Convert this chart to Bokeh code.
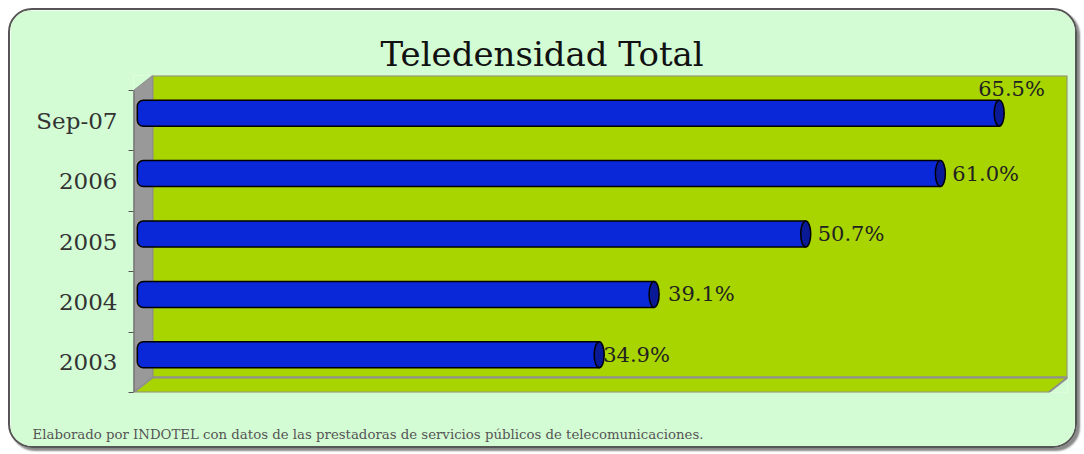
from bokeh.plotting import figure
from bokeh.models import Range1d, FixedTicker, Title, ColumnDataSource
from bokeh.core.properties import value
from bokeh.embed import file_html
from bokeh.resources import INLINE

# ---- data ----
categories = ["2003", "2004", "2005", "2006", "Sep-07"]
teledensidad = [34.9, 39.1, 50.7, 61.0, 65.5]
value_labels = ["34.9%", "39.1%", "50.7%", "61.0%", "65.5%"]
title_text = "Teledensidad Total"
footnote = "Elaborado por INDOTEL con datos de las prestadoras de servicios públicos de telecomunicaciones."

# ---- style ----
X_MAX = 70
BG = "#d4fcd4"
WALL = "#a8d400"
SIDE = "#999999"
EDGE = "#8f8f8f"
BAR = "#0a28d8"
CAP = "#0a1a96"
FONT = "DejaVu Serif"
label_dx = [4, 14, 12, 12, -21]   # pixel offsets of the value labels
label_dy = [0, 0, 0, 0, -24]

FRAME_W, FRAME_H = 934, 317
DEPTH_X_PX, DEPTH_Y_PX = 19, 15
N = len(categories)
DX = DEPTH_X_PX * X_MAX / (FRAME_W - DEPTH_X_PX)
DY = DEPTH_Y_PX * N / (FRAME_H - DEPTH_Y_PX)
BAR_H = 0.43

p = figure(width=1069, height=440,
           x_range=Range1d(0, X_MAX + DX), y_range=Range1d(0, N + DY),
           output_backend="svg", toolbar_location=None, x_axis_location=None,
           min_border_left=123, min_border_right=12, min_border_top=65, min_border_bottom=58,
           background_fill_color=BG, border_fill_color=BG, outline_line_color=None,
           styles={"margin": "8px 0 0 8px", "border": "2px solid #555", "border-radius": "24px",
                   "overflow": "hidden", "box-shadow": "3px 3px 2px #888"})
p.grid.visible = False

# 3D walls
p.quad(left=[DX], right=[X_MAX + DX], bottom=[DY], top=[N + DY],
       fill_color=WALL, line_color=EDGE, line_width=2)
p.patch(x=[0, DX, DX, 0], y=[0, DY, N + DY, N], fill_color=SIDE, line_color=EDGE, line_width=1)
p.patch(x=[0, DX, X_MAX + DX, X_MAX], y=[0, DY, DY, 0], fill_color=WALL, line_color=EDGE, line_width=2)
p.segment(x0=[0], y0=[0], x1=[0], y1=[N], line_color="#666", line_width=2)

centers = [i + 0.5 for i in range(N)]
src = ColumnDataSource(dict(
    y=[c + DY / 2 for c in centers],
    left=[DX * 0.2] * N,
    right=[v + DX / 2 for v in teledensidad],
    label=value_labels, dx=label_dx, dy=label_dy,
))

p.hbar(y="y", left="left", right="right", height=BAR_H, source=src,
       fill_color=BAR, line_color="black", line_width=1.5, border_radius=(6, 0, 0, 6))
p.ellipse(x="right", y="y", width=10, height=BAR_H, width_units="screen", source=src,
          fill_color=CAP, line_color="black", line_width=1.5)
p.text(x="right", y="y", text="label", x_offset="dx", y_offset="dy", source=src,
       text_baseline="middle", text_align="left", text_font=value(FONT),
       text_font_size="21px", text_color="#222")

# y axis
ax = p.yaxis[0]
ax.ticker = FixedTicker(ticks=centers, minor_ticks=list(range(N + 1)))
ax.major_label_overrides = {c: cat for c, cat in zip(centers, categories)}
ax.major_tick_line_color = None
ax.major_tick_out = 0
ax.major_tick_in = 0
ax.minor_tick_out = 5
ax.minor_tick_in = 0
ax.minor_tick_line_color = "#555"
ax.axis_line_color = None
ax.major_label_standoff = 11
ax.major_label_text_font = FONT
ax.major_label_text_font_size = "23px"
ax.major_label_text_color = "#333"

p.title = Title(text=title_text, align="left", offset=247, text_font=FONT,
                text_font_size="34px", text_font_style="normal", text_color="#111", standoff=3)
p.add_layout(Title(text="\n" + footnote, align="left", offset=-101, text_font=FONT,
                   text_font_size="13.3px", text_font_style="normal", text_color="#555",
                   text_line_height=2.1, standoff=0, vertical_align="bottom"), "below")

open("out.html", "w").write(file_html(p, INLINE))
